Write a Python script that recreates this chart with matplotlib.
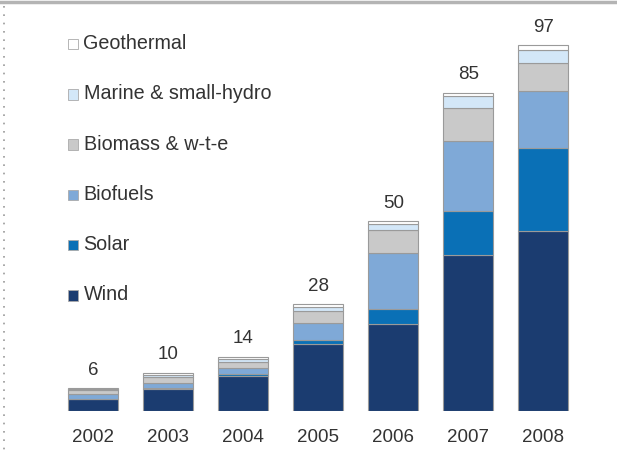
import matplotlib
matplotlib.use("Agg")
import matplotlib.pyplot as plt
from matplotlib.patches import Rectangle
from matplotlib.lines import Line2D
import numpy as np

years = ["2002", "2003", "2004", "2005", "2006", "2007", "2008"]
totals = [6, 10, 14, 28, 50, 85, 97]
wind = [3.2, 5.8, 9.4, 17.8, 23.1, 41.3, 47.8]
solar = [0.1, 0.2, 0.3, 1.1, 4.0, 11.8, 21.9]
biofuels = [1.1, 1.5, 1.7, 4.4, 14.8, 18.5, 15.2]
biomass = [1.2, 1.5, 1.6, 3.3, 6.2, 8.8, 7.3]
marine = [0.3, 0.6, 0.7, 1.1, 1.6, 3.2, 3.5]
geothermal = [0.1, 0.4, 0.6, 0.6, 0.6, 0.8, 1.3]

series = [
    ("Wind", wind, "#1b3c70"),
    ("Solar", solar, "#0a70b6"),
    ("Biofuels", biofuels, "#7fa9d7"),
    ("Biomass & w-t-e", biomass, "#c9c9c9"),
    ("Marine & small-hydro", marine, "#d3e7f8"),
    ("Geothermal", geothermal, "#ffffff"),
]

plt.rcParams['font.family'] = ['Liberation Sans', 'DejaVu Sans']
W, H = 617, 454
fig = plt.figure(figsize=(W / 100, H / 100), dpi=100)

# axes mapped to pixel geometry
base_px = 411
px_per_unit = 3.77
ytop = 105
ax = fig.add_axes([0, (H - base_px) / H, 1, ytop * px_per_unit / H])
x0 = 93.3
step = 75.0
ax.set_xlim(-x0 / step, (W - x0) / step)
ax.set_ylim(0, ytop)
ax.axis("off")

x = np.arange(len(years))
bottom = np.zeros(len(years))
for name, vals, col in series:
    v = np.array(vals)
    ax.bar(x, v, width=50 / step, bottom=bottom, color=col,
           edgecolor="#9a9a9a", linewidth=0.8, zorder=2)
    bottom += v

for xi, t, top in zip(x, totals, bottom):
    ax.text(xi, top + 2.6, str(t), ha="center", va="bottom",
            fontsize=13.5, color="#333333")

for xi, y in zip(x, years):
    fig.text((x0 + step * xi) / W, 1 - 438 / H, y, ha="center", va="center",
             fontsize=13.5, color="#333333")

# legend (top to bottom: Geothermal ... Wind)
for k, (name, vals, col) in enumerate(reversed(series)):
    cy = 44 + 50.3 * k
    fig.patches.append(Rectangle((67.7 / W, 1 - (cy + 5.2) / H), 10.5 / W, 10.5 / H,
                                 transform=fig.transFigure, facecolor=col,
                                 edgecolor="#aaaaaa", linewidth=0.6))
    fig.text(83.5 / W, 1 - (cy - 0.5) / H, name, ha="left", va="center",
             fontsize=14.2, color="#333333")

# frame decorations: top grey bar and dotted left line
fig.add_artist(Line2D([0, 1], [1 - 1.5 / H, 1 - 1.5 / H], transform=fig.transFigure,
                      color="#b4b4b4", linewidth=2.5))
fig.add_artist(Line2D([3.5 / W, 3.5 / W], [1 - 6 / H, 0], transform=fig.transFigure,
                      color="#999999", linewidth=1.2, linestyle=(0, (1, 4))))

fig.savefig("out.png", dpi=100)
